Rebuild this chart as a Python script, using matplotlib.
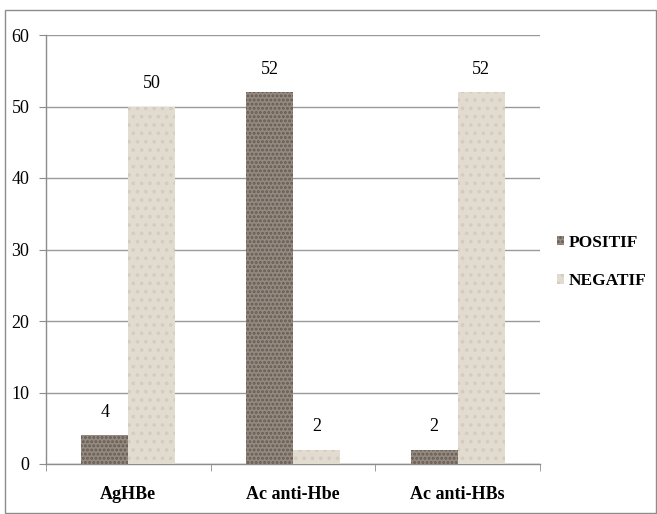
import numpy as np
import matplotlib.pyplot as plt
from matplotlib.patches import Rectangle

categories = ['AgHBe', 'Ac anti-Hbe', 'Ac anti-HBs']
positif = [4, 52, 2]
negatif = [50, 2, 52]
series_names = ['POSITIF', 'NEGATIF']

plt.rcParams['font.family'] = ['Liberation Serif', 'DejaVu Serif']
plt.rcParams['hatch.linewidth'] = 1.4

fig = plt.figure(figsize=(6.57, 5.14), dpi=100)
# outer chart border
fig.patches.append(Rectangle((5 / 657, 0.002), 651 / 657, 503 / 514,
                             transform=fig.transFigure, fill=False,
                             edgecolor='#8c8c8c', linewidth=1.0))

ax = fig.add_axes([46 / 657, 1 - 464 / 514, 494 / 657, 429 / 514])

x = np.arange(len(categories))
w = 0.285
ax.bar(x - w / 2, positif, w, color='#948a80', hatch='....',
       edgecolor='#655b53', linewidth=0, label=series_names[0], zorder=3)
ax.bar(x + w / 2, negatif, w, color='#e2dbcf', hatch='..',
       edgecolor='#d4ccbd', linewidth=0, label=series_names[1], zorder=3)

for xi, v in zip(x - w / 2, positif):
    ax.text(xi, v + 2, str(v), ha='center', va='bottom', fontsize=13)
for xi, v in zip(x + w / 2, negatif):
    ax.text(xi, v + 2, str(v), ha='center', va='bottom', fontsize=13)

ax.set_xlim(-0.5, 2.5)
ax.set_ylim(0, 60)
ax.set_yticks(np.arange(0, 61, 10))
ax.yaxis.grid(True, color='#9a9a9a', linewidth=1.0, zorder=0)
ax.set_axisbelow(True)

ax.set_xticks(x)
ax.set_xticklabels(categories, fontweight='bold', fontsize=13)
ax.set_xticks([-0.5, 0.5, 1.5, 2.5], minor=True)
ax.tick_params(axis='x', which='major', length=0, pad=16)
ax.tick_params(axis='x', which='minor', length=5, color='#8c8c8c')
ax.tick_params(axis='y', length=5, color='#8c8c8c', labelsize=13, pad=7)

for s in ['top', 'right']:
    ax.spines[s].set_visible(False)
for s in ['left', 'bottom']:
    ax.spines[s].set_color('#8c8c8c')
    ax.spines[s].set_linewidth(1.0)

leg = fig.legend(loc='upper left', bbox_to_anchor=(541 / 657, 1 - 219 / 514),
                 frameon=False, handlelength=0.45, handleheight=0.45,
                 handletextpad=0.25, labelspacing=1.3,
                 prop={'weight': 'bold', 'size': 12.5})

fig.savefig('out.png', dpi=100)
